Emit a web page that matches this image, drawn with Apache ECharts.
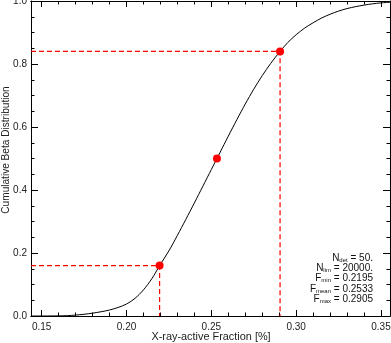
<!DOCTYPE html>
<html>
<head>
<meta charset="utf-8">
<script src="https://cdn.jsdelivr.net/npm/echarts@6/dist/echarts.min.js"></script>
<style>
html,body{margin:0;padding:0;background:#fff;}
#c{width:391px;height:343px;}
</style>
</head>
<body>
<div id="c"></div>
<script>
// ---- data ----
var xRange = [0.1437, 0.3553];
var yRange = [0, 1];
var xTickValues = [0.15, 0.20, 0.25, 0.30, 0.35];
var xMinorTickValues = [0.16,0.17,0.18,0.19,0.21,0.22,0.23,0.24,0.26,0.27,0.28,0.29,0.31,0.32,0.33,0.34];
var curveX = [0.1437,0.155,0.160,0.165,0.170,0.175,0.180,0.185,0.190,0.195,0.200,0.205,0.210,0.215,0.2195,0.225,0.230,0.235,0.240,0.245,0.250,0.2533,0.255,0.260,0.265,0.270,0.275,0.280,0.285,0.2905,0.295,0.300,0.305,0.310,0.315,0.320,0.325,0.330,0.335,0.340,0.345,0.350,0.3553];
var curveY = [0,0.0001,0.0004,0.001,0.003,0.0055,0.009,0.0135,0.019,0.027,0.038,0.056,0.083,0.119,0.160,0.207,0.256,0.307,0.359,0.412,0.465,0.500,0.518,0.571,0.623,0.673,0.720,0.763,0.802,0.840,0.868,0.893,0.914,0.931,0.946,0.958,0.968,0.976,0.982,0.987,0.991,0.994,0.996];
var markerX = [0.2195, 0.2533, 0.2905];
var markerY = [0.16, 0.50, 0.84];
var guideIdx = [0, 2]; // markers with dashed guides
var annotLines = [
  ['N','det',' = 50.'],
  ['N','lim',' = 20000.'],
  ['F','min',' = 0.2195'],
  ['F','mean',' = 0.2533'],
  ['F','max',' = 0.2905']
];
var xTitle = 'X-ray-active Fraction [%]';
var yTitle = 'Cumulative Beta Distribution';

// ---- build ----
var FONT = 'Liberation Sans';
var curve = curveX.map(function(x,i){return [x, curveY[i]];});
var markers = markerX.map(function(x,i){return [x, markerY[i]];});

var series = [];
guideIdx.forEach(function(k){
  series.push({
    type:'line', xAxisIndex:0, yAxisIndex:0, silent:true, showSymbol:false, symbol:'none',
    color:'#ff0000',
    lineStyle:{color:'#ff0000', width:1.2, type:[5,3], opacity:1},
    emphasis:{disabled:true},
    data:[[xRange[0], markerY[k]], [markerX[k], markerY[k]], [markerX[k], yRange[0]]],
    z:2
  });
});
series.push({
  type:'line', xAxisIndex:0, yAxisIndex:0, data:curve, showSymbol:false, symbol:'none',
  smooth:0.3, color:'#000', lineStyle:{color:'#000', width:1}, z:3, silent:true
});
series.push({
  type:'scatter', xAxisIndex:0, yAxisIndex:0, data:markers, symbol:'circle', symbolSize:8,
  color:'#ff0000', itemStyle:{color:'#ff0000', opacity:1}, z:4, silent:true
});

var graphics = annotLines.map(function(l, i){
  return {
    type:'text', right: 391-373, top: 253 + i*10.3, z:10,
    style:{
      text:'{a|'+l[0]+'}{b|'+l[1]+'}{a|'+l[2]+'}',
      rich:{
        a:{fontFamily:FONT, fontSize:10, fill:'#111', lineHeight:11},
        b:{fontFamily:FONT, fontSize:6, fill:'#111', lineHeight:11, padding:[4,0,0,0]}
      }
    }
  };
});
graphics.push({
  type:'text', x:211, y:336.5, z:10,
  style:{text:xTitle, fontFamily:FONT, fontSize:10.9, fill:'#222', align:'center', verticalAlign:'middle'}
});
graphics.push({
  type:'text', x:6, y:150, rotation:Math.PI/2, z:10,
  style:{text:yTitle, fontFamily:FONT, fontSize:10.1, fill:'#222', align:'center', verticalAlign:'middle'}
});

var grid = {left:31, right:1, top:1, bottom:27, containLabel:false, outerBoundsMode:'none'};
var axLine = {show:true, onZero:false, lineStyle:{color:'#000', width:1}};
var blankLabel = function(vals){
  return {show:true, customValues:vals, formatter:function(){return '';}};
};

var option = {
  animation:false,
  backgroundColor:'#fff',
  grid: grid,
  xAxis:[
    {type:'value', position:'bottom', min:xRange[0], max:xRange[1],
     axisLine:axLine, splitLine:{show:false},
     axisTick:{show:true, inside:true, length:6, customValues:xTickValues, lineStyle:{color:'#000'}},
     axisLabel:{customValues:xTickValues, fontFamily:FONT, fontSize:10, color:'#222', margin:6,
       formatter:function(v){return v.toFixed(2);}}},
    {type:'value', position:'bottom', min:xRange[0], max:xRange[1],
     axisLine:axLine, splitLine:{show:false}, axisLabel:blankLabel(xMinorTickValues),
     axisTick:{show:true, inside:true, length:3.5, customValues:xMinorTickValues, lineStyle:{color:'#000'}}},
    {type:'value', position:'top', min:xRange[0], max:xRange[1],
     axisLine:axLine, splitLine:{show:false}, axisLabel:blankLabel(xTickValues),
     axisTick:{show:true, inside:true, length:6, customValues:xTickValues, lineStyle:{color:'#000'}}},
    {type:'value', position:'top', min:xRange[0], max:xRange[1],
     axisLine:axLine, splitLine:{show:false}, axisLabel:blankLabel(xMinorTickValues),
     axisTick:{show:true, inside:true, length:3.5, customValues:xMinorTickValues, lineStyle:{color:'#000'}}}
  ],
  yAxis:[
    {type:'value', position:'left', min:yRange[0], max:yRange[1], interval:0.2,
     axisLine:axLine, splitLine:{show:false},
     axisTick:{show:true, inside:true, length:7, lineStyle:{color:'#000'}},
     minorTick:{show:true, splitNumber:4, length:3.5, lineStyle:{color:'#000'}},
     axisLabel:{fontFamily:FONT, fontSize:10, color:'#222', margin:4,
       formatter:function(v){return v.toFixed(1);}}},
    {type:'value', position:'right', min:yRange[0], max:yRange[1], interval:0.2,
     axisLine:axLine, splitLine:{show:false}, axisLabel:{show:false},
     axisTick:{show:true, inside:true, length:7, lineStyle:{color:'#000'}},
     minorTick:{show:true, splitNumber:4, length:3.5, lineStyle:{color:'#000'}}}
  ],
  series: series,
  graphic: graphics
};

var chart = echarts.init(document.getElementById('c'), null, {renderer:'canvas'});
chart.setOption(option);
</script>
</body>
</html>
